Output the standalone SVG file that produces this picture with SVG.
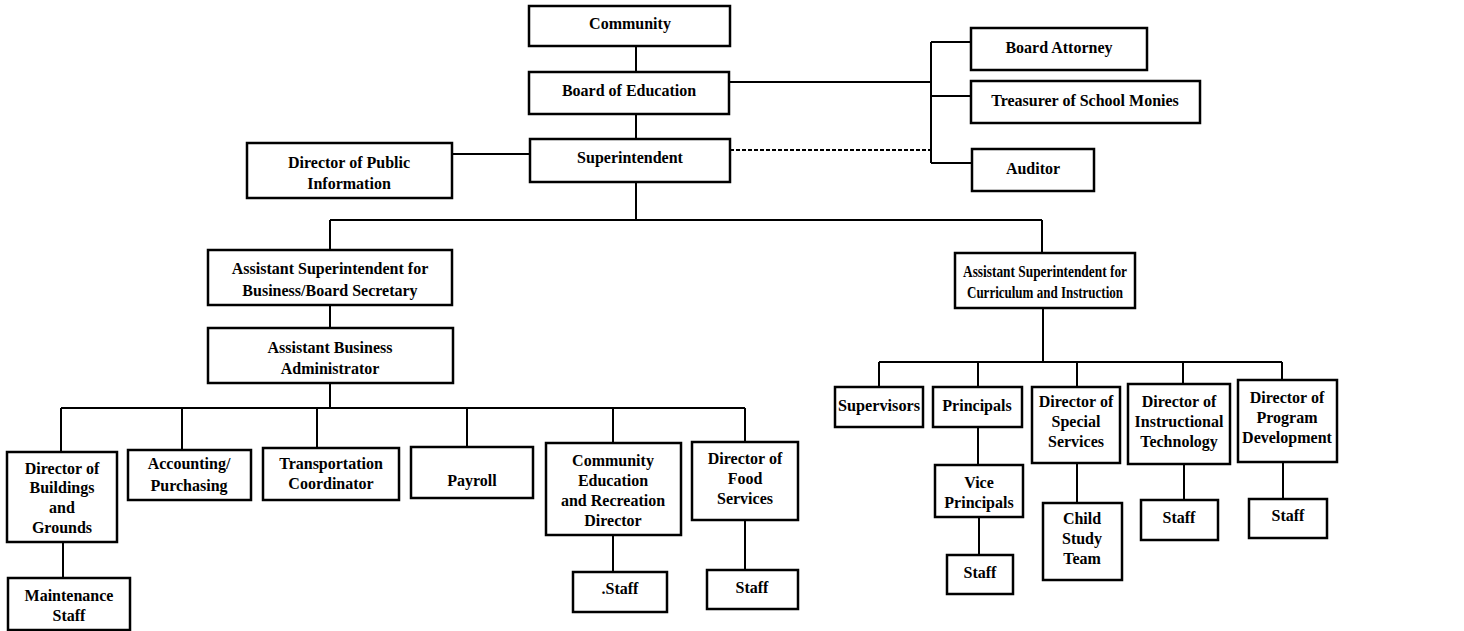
<svg xmlns="http://www.w3.org/2000/svg" width="1464" height="631" viewBox="0 0 1464 631">
<style>
.box{fill:#fff;stroke:#000;stroke-width:2.5}
.ln{fill:none;stroke:#000;stroke-width:2}
.dash{fill:none;stroke:#000;stroke-width:2;stroke-dasharray:4 2}
text{font-family:"Liberation Serif","Times New Roman",serif;font-weight:bold;font-size:16px;text-anchor:middle;fill:#000}
</style>
<rect width="1464" height="631" fill="#fff"/>
<g id="connectors">
<path class="ln" d="M636 46V72M636 114V139M636 182V220M330 220H1042M330 220V250M1042 220V253"/>
<path class="ln" d="M452 154H530"/>
<path class="ln" d="M729 82H931M931 42V163M931 42H971M931 96H971M931 163H972"/>
<path class="dash" d="M730 150H931"/>
<path class="ln" d="M330 305V328M330 383V408M61 408H745M61 408V452M182 408V450M317 408V448M467 408V447M613 408V443M745 408V442"/>
<path class="ln" d="M63 542V578M613 535V572M745 520V570"/>
<path class="ln" d="M1043 308V362M879 362H1282M879 362V387M978 362V387M1077 362V387M1183 362V384M1282 362V380"/>
<path class="ln" d="M978 427V465M979 517V555M1077 463V503M1184 464V500M1283 462V499"/>
</g>
<g id="community"><rect class="box" x="529" y="6" width="201" height="40"/><text x="630" y="29">Community</text></g>
<g id="board"><rect class="box" x="529" y="72" width="200" height="42"/><text x="629" y="96">Board of Education</text></g>
<g id="superintendent"><rect class="box" x="530" y="139" width="200" height="43"/><text x="630" y="163">Superintendent</text></g>
<g id="public-info"><rect class="box" x="247" y="143" width="205" height="55"/><text x="349" y="168">Director of Public</text><text x="349" y="189">Information</text></g>
<g id="attorney"><rect class="box" x="971" y="28" width="176" height="42"/><text x="1059" y="53">Board Attorney</text></g>
<g id="treasurer"><rect class="box" x="971" y="81" width="229" height="42"/><text x="1085" y="106">Treasurer of School Monies</text></g>
<g id="auditor"><rect class="box" x="972" y="149" width="122" height="42"/><text x="1033" y="174">Auditor</text></g>
<g id="asst-business"><rect class="box" x="208" y="250" width="244" height="55"/><text x="330" y="274">Assistant Superintendent for</text><text x="330" y="296">Business/Board Secretary</text></g>
<g id="asst-bus-admin"><rect class="box" x="208" y="328" width="245" height="55"/><text x="330" y="353">Assistant Business</text><text x="330" y="374">Administrator</text></g>
<g id="buildings"><rect class="box" x="7" y="452" width="110" height="90"/><text x="62" y="474">Director of</text><text x="62" y="493">Buildings</text><text x="62" y="513">and</text><text x="62" y="533">Grounds</text></g>
<g id="accounting"><rect class="box" x="128" y="450" width="123" height="50"/><text x="189" y="469">Accounting/</text><text x="189" y="491">Purchasing</text></g>
<g id="transportation"><rect class="box" x="263" y="448" width="136" height="52"/><text x="331" y="469">Transportation</text><text x="331" y="489">Coordinator</text></g>
<g id="payroll"><rect class="box" x="411" y="447" width="122" height="51"/><text x="472" y="486">Payroll</text></g>
<g id="community-ed"><rect class="box" x="546" y="443" width="135" height="92"/><text x="613" y="466">Community</text><text x="613" y="486">Education</text><text x="613" y="506">and Recreation</text><text x="613" y="526">Director</text></g>
<g id="food"><rect class="box" x="692" y="442" width="106" height="78"/><text x="745" y="464">Director of</text><text x="745" y="484">Food</text><text x="745" y="504">Services</text></g>
<g id="maintenance"><rect class="box" x="8" y="578" width="122" height="52"/><text x="69" y="601">Maintenance</text><text x="69" y="621">Staff</text></g>
<g id="ce-staff"><rect class="box" x="573" y="572" width="94" height="40"/><text x="620" y="594">.Staff</text></g>
<g id="food-staff"><rect class="box" x="707" y="570" width="91" height="39"/><text x="752" y="593">Staff</text></g>
<g id="asst-curriculum"><rect class="box" x="955" y="253" width="180" height="55"/><text x="1045" y="277" textLength="164" lengthAdjust="spacingAndGlyphs">Assistant Superintendent for</text><text x="1045" y="298" textLength="156" lengthAdjust="spacingAndGlyphs">Curriculum and Instruction</text></g>
<g id="supervisors"><rect class="box" x="835" y="387" width="88" height="40"/><text x="879" y="411" textLength="82" lengthAdjust="spacingAndGlyphs">Supervisors</text></g>
<g id="principals"><rect class="box" x="933" y="387" width="89" height="40"/><text x="977" y="411">Principals</text></g>
<g id="special"><rect class="box" x="1032" y="387" width="88" height="76"/><text x="1076" y="407">Director of</text><text x="1076" y="427">Special</text><text x="1076" y="447">Services</text></g>
<g id="instr-tech"><rect class="box" x="1128" y="384" width="102" height="80"/><text x="1179" y="407">Director of</text><text x="1179" y="427">Instructional</text><text x="1179" y="447">Technology</text></g>
<g id="program-dev"><rect class="box" x="1238" y="380" width="99" height="82"/><text x="1287" y="403">Director of</text><text x="1287" y="423">Program</text><text x="1287" y="443">Development</text></g>
<g id="vice-principals"><rect class="box" x="935" y="465" width="88" height="52"/><text x="979" y="488">Vice</text><text x="979" y="508">Principals</text></g>
<g id="vp-staff"><rect class="box" x="947" y="555" width="66" height="39"/><text x="980" y="578">Staff</text></g>
<g id="child-study"><rect class="box" x="1043" y="503" width="79" height="77"/><text x="1082" y="524">Child</text><text x="1082" y="544">Study</text><text x="1082" y="564">Team</text></g>
<g id="it-staff"><rect class="box" x="1141" y="500" width="77" height="40"/><text x="1179" y="523">Staff</text></g>
<g id="pd-staff"><rect class="box" x="1249" y="499" width="78" height="39"/><text x="1288" y="521">Staff</text></g>
</svg>
